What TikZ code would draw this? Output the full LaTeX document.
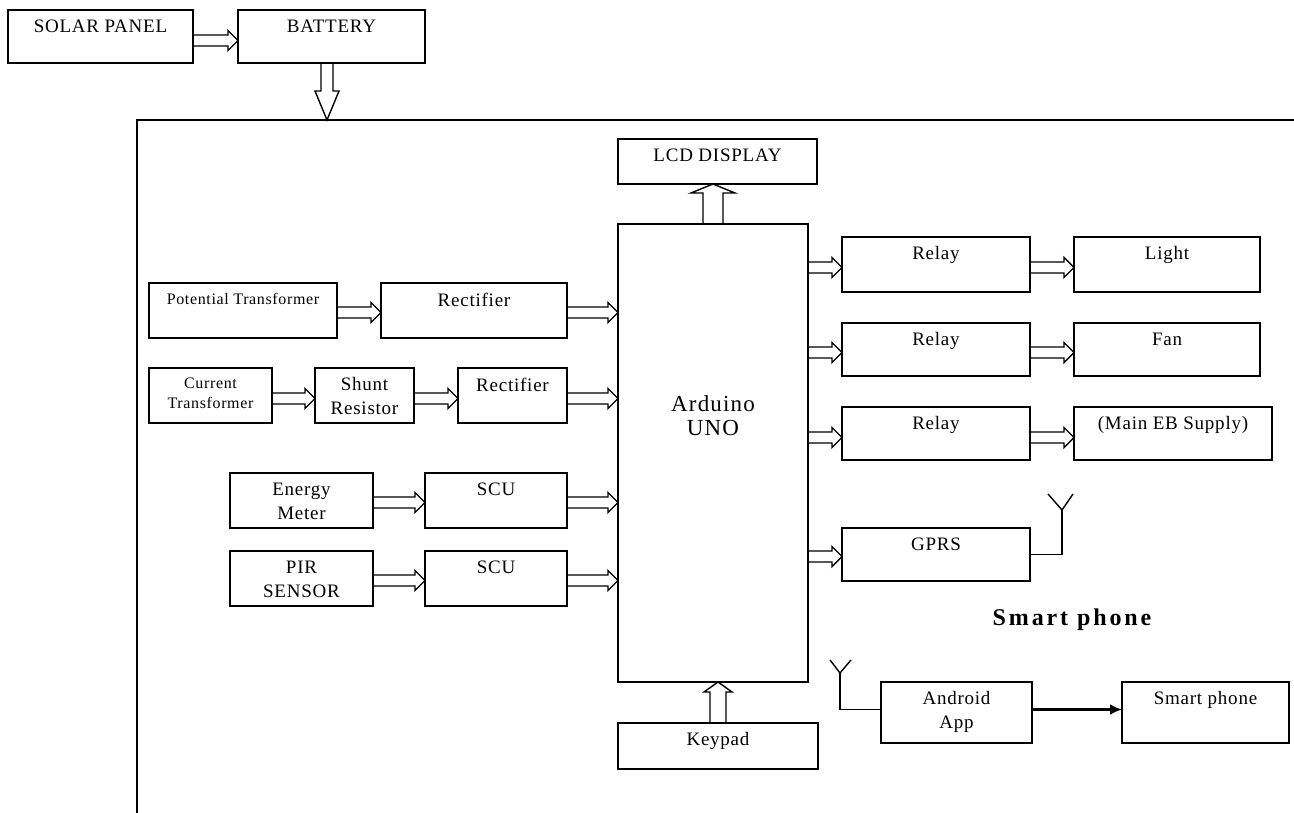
\documentclass[tikz,border=0pt]{standalone}
\usepackage{fontspec}
\setmainfont{Liberation Serif}
\newfontfamily\boxfont{Liberation Serif}[LetterSpace=4]
\newfontfamily\smallfont{Liberation Serif}[LetterSpace=4]
\newfontfamily\bigfont{Liberation Serif}[LetterSpace=5]
\newfontfamily\phonefont{Liberation Serif}[LetterSpace=12]
\usetikzlibrary{calc,arrows.meta}
\begin{document}
\begin{tikzpicture}[x=1pt,y=-1pt,
  box/.style 2 args={draw, line width=1.5pt, inner sep=0pt, outer sep=0pt, minimum width=#1pt, minimum height=#2pt},
  lbl/.style={anchor=north, yshift=-9.5pt, inner sep=0pt, align=center, font=\boxfont\fontsize{19}{24}\selectfont},
  lbls/.style={anchor=north, yshift=-10pt, inner sep=0pt, align=center, font=\smallfont\fontsize{16}{20}\selectfont},
  lblbig/.style={anchor=center, yshift=37pt, inner sep=0pt, align=center, font=\bigfont\fontsize{23}{24}\selectfont},
  fat/.style n args={3}{line width=1.4pt, to path={
     ($(\tikztostart)!#1!90:(\tikztotarget)$)
     -- ($(\tikztotarget)!#3!(\tikztostart)!#1!-90:(\tikztostart)$)
     -- ($(\tikztotarget)!#3!(\tikztostart)!#2!-90:(\tikztostart)$)
     -- (\tikztotarget)
     -- ($(\tikztotarget)!#3!(\tikztostart)!#2!90:(\tikztostart)$)
     -- ($(\tikztotarget)!#3!(\tikztostart)!#1!90:(\tikztostart)$)
     -- ($(\tikztostart)!#1!-90:(\tikztotarget)$)}},
  harrow/.style={fat={5.5pt}{10pt}{10pt}},
  wire/.style={line width=1.4pt},
  frame/.style={line width=2pt}
]
\useasboundingbox (0,0) rectangle (1294,813);

% outer frame
\draw[frame] (137,813) -- (137,120) -- (1294,120);
\coordinate (ftop) at (327,120);

% power
\node[box={185}{53}, label={[lbl]north:SOLAR PANEL}] (sp) at (100.5,36.5) {};
\node[box={187}{53}, label={[lbl]north:BATTERY}] (bat) at (331.5,36.5) {};

% central
\node[box={199}{45}, label={[lbl]north:LCD DISPLAY}] (lcd) at (717.5,161.5) {};
\node[box={190}{458}, label={[lblbig]center:Arduino\\UNO}] (ard) at (713,453) {};
\node[box={200}{46}, label={[lbl]north:Keypad}] (key) at (718,746) {};

% inputs
\node[box={188}{55}, label={[lbls]north:Potential Transformer}] (pt) at (243,310.5) {};
\node[box={186}{55}, label={[lbl]north:Rectifier}] (rA) at (474,310.5) {};
\node[box={123}{55}, label={[lbls]north:Current\\Transformer}] (ct) at (210.5,395.5) {};
\node[box={99}{55}, label={[lbl]north:Shunt\\Resistor}] (sh) at (364.5,395.5) {};
\node[box={109}{55}, label={[lbl]north:Rectifier}] (rB) at (512.5,395.5) {};
\node[box={143}{55}, label={[lbl]north:Energy\\Meter}] (em) at (301.5,500.5) {};
\node[box={142}{55}, label={[lbl]north:SCU}] (scuA) at (496,500.5) {};
\node[box={143}{55}, label={[lbl]north:PIR\\SENSOR}] (pir) at (301.5,578.5) {};
\node[box={142}{55}, label={[lbl]north:SCU}] (scuB) at (496,578.5) {};

% outputs
\node[box={188}{55}, label={[lbl]north:Relay}] (rl1) at (936,264.5) {};
\node[box={186}{55}, label={[lbl]north:Light}] (light) at (1167,264.5) {};
\node[box={188}{53}, label={[lbl]north:Relay}] (rl2) at (936,349.5) {};
\node[box={186}{53}, label={[lbl]north:Fan}] (fan) at (1167,349.5) {};
\node[box={188}{53}, label={[lbl]north:Relay}] (rl3) at (936,433.5) {};
\node[box={198}{53}, label={[lbl]north:(Main EB Supply)}] (eb) at (1173,433.5) {};
\node[box={188}{53}, label={[lbl]north:GPRS}] (gprs) at (936,554.5) {};
\node[box={151}{61}, label={[lbl]north:Android\\App}] (andr) at (956.5,712.5) {};
\node[box={167}{61}, label={[lbl]north:Smart phone}] (phone) at (1205.5,712.5) {};

\node[anchor=base, inner sep=0pt, font=\phonefont\bfseries\fontsize{24}{28}\selectfont] (sptitle) at (1072,625) {Smart phone};

% hollow arrows
\draw[fat={6pt}{12pt}{29pt}] (bat.south -| ftop) to (ftop);
\draw[harrow] ([yshift=-4pt]sp.east) to ([yshift=-4pt]bat.west);
\draw[fat={10pt}{22pt}{9pt}] (ard.north) to (lcd.south -| ard.north);
\draw[fat={8pt}{14pt}{10pt}] (key.north) to (ard.south -| key.north);

\draw[harrow] ([yshift=-2pt]pt.east) to ([yshift=-2pt]rA.west);
\draw[harrow] ([yshift=-2pt]rA.east) to ([yshift=-2pt]rA.east -| ard.west);
\draw[harrow] ([yshift=-3pt]ct.east) to ([yshift=-3pt]sh.west);
\draw[harrow] ([yshift=-3pt]sh.east) to ([yshift=-3pt]rB.west);
\draw[harrow] ([yshift=-3pt]rB.east) to ([yshift=-3pt]rB.east -| ard.west);
\draw[harrow] ([yshift=-2pt]em.east) to ([yshift=-2pt]scuA.west);
\draw[harrow] ([yshift=-2pt]scuA.east) to ([yshift=-2pt]scuA.east -| ard.west);
\draw[harrow] ([yshift=-2pt]pir.east) to ([yshift=-2pt]scuB.west);
\draw[harrow] ([yshift=-2pt]scuB.east) to ([yshift=-2pt]scuB.east -| ard.west);

\draw[harrow] ([yshift=-3pt]ard.east |- rl1.west) to ([yshift=-3pt]rl1.west);
\draw[harrow] ([yshift=-3pt]rl1.east) to ([yshift=-3pt]light.west);
\draw[harrow] ([yshift=-3pt]ard.east |- rl2.west) to ([yshift=-3pt]rl2.west);
\draw[harrow] ([yshift=-3pt]rl2.east) to ([yshift=-3pt]fan.west);
\draw[harrow] ([yshift=-4pt]ard.east |- rl3.west) to ([yshift=-4pt]rl3.west);
\draw[harrow] ([yshift=-4pt]rl3.east) to ([yshift=-4pt]eb.west);
\draw[harrow] ([yshift=-2pt]ard.east |- gprs.west) to ([yshift=-2pt]gprs.west);

% antennas
\coordinate (gant) at (1062,510);
\draw[wire] (gprs.east) -| (gant);
\draw[wire] (gant) -- ++(-14,-16) (gant) -- ++(11,-16);
\coordinate (aant) at (840,673);
\draw[wire] ([yshift=3pt]andr.west) -| (aant);
\draw[wire] (aant) -- ++(-10,-13) (aant) -- ++(11,-13);

% app to phone
\draw[line width=2.2pt, -{Latex[length=12pt,width=11pt]}] ([yshift=3pt]andr.east) -- ([yshift=3pt]phone.west);
\end{tikzpicture}
\end{document}
